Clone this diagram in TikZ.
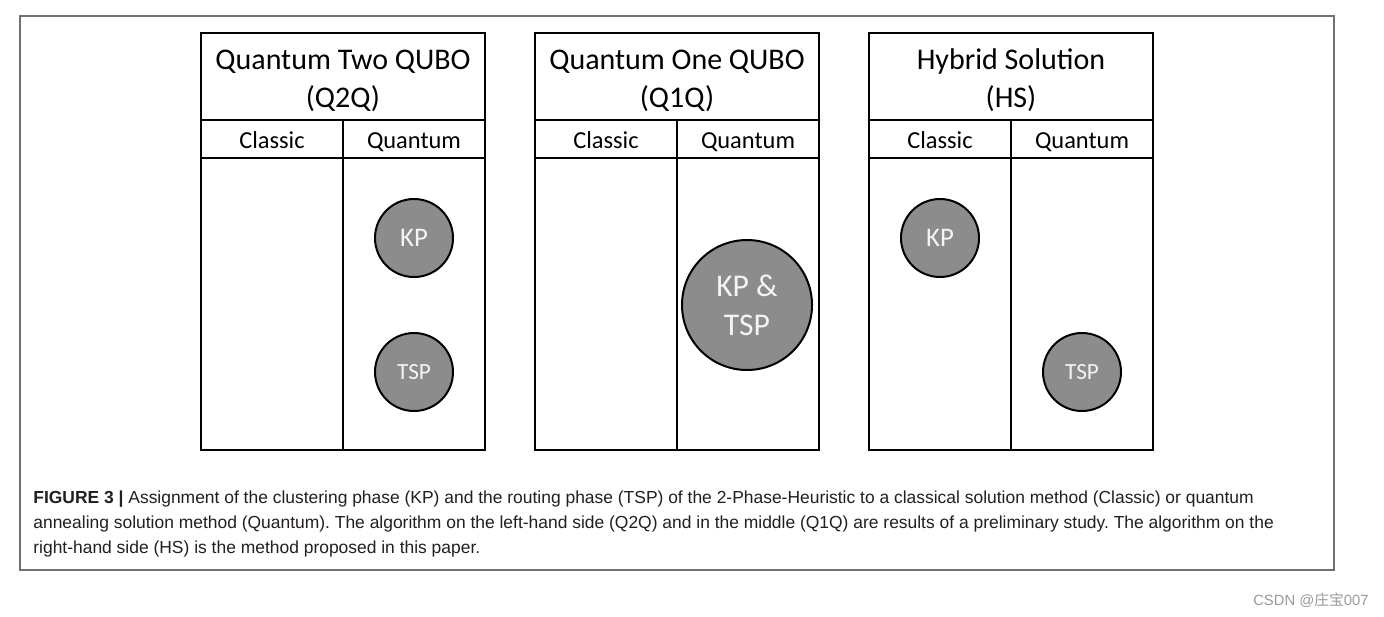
\documentclass[tikz,border=0pt]{standalone}
\usepackage{fontspec}
\setmainfont{Carlito}
\newfontfamily\capfont{Liberation Sans}
\newfontfamily\cjkfont{Noto Sans CJK SC}
\usetikzlibrary{positioning}
\definecolor{phaseFill}{HTML}{8c8c8c}
\definecolor{phaseText}{HTML}{f4f4f4}
\definecolor{frameGray}{HTML}{707070}
\definecolor{capText}{HTML}{231f20}
\definecolor{wmGray}{HTML}{9a9a9a}
\frenchspacing

\begin{document}
\begin{tikzpicture}[x=0.5pt,y=-0.5pt,panel/.style={draw=black, line width=1.3pt},ttl/.style={font=\fontsize{15}{19}\selectfont, align=center, inner sep=0pt, anchor=base},hdr/.style={font=\fontsize{12.2}{14}\selectfont, inner sep=0pt, anchor=base},phase/.style={circle, draw=black, line width=1pt, fill=phaseFill, text=phaseText, inner sep=0pt, align=center},capline/.style={anchor=base west, inner sep=0pt, font=\capfont\fontsize{8.72}{12.5}\selectfont, text=capText}]
\useasboundingbox[fill=white] (0,0) rectangle (1384,616);
\draw[frameGray, line width=0.6pt] (20,16) rectangle (1334,570);
% three panels: title row, header row, two columns
\foreach \x/\nm/\ttltext in {201/q2q/{Quantum Two QUBO\\(Q2Q)}, 535/q1q/{Quantum One QUBO\\(Q1Q)}, 869/hs/{Hybrid Solution\\(HS)}}{
  \draw[panel] (\x,33) rectangle (\x+284,450);
  \draw[panel] (\x,120) -- (\x+284,120) (\x,158) -- (\x+284,158) (\x+142,120) -- (\x+142,450);
  \node[ttl] (\nm-title) at (\x+142,107) {\ttltext};
  \node[hdr] (\nm-classic) at (\x+71,148) {Classic};
  \node[hdr] (\nm-quantum) at (\x+213,148) {Quantum};
}
\node[phase, minimum size=39pt, font=\fontsize{13.4}{15}\selectfont] (q2q-kp) at (414,238) {KP};
\node[phase, minimum size=39pt, font=\fontsize{11.6}{13}\selectfont] (q2q-tsp) at (414,372) {TSP};
\node[phase, minimum size=65pt, font=\fontsize{15.8}{19.5}\selectfont] (q1q-both) at (747,305) {KP \&\\TSP};
\node[phase, minimum size=39pt, font=\fontsize{13.4}{15}\selectfont] (hs-kp) at (940,238) {KP};
\node[phase, minimum size=39pt, font=\fontsize{11.6}{13}\selectfont] (hs-tsp) at (1082,372) {TSP};
% caption
\node[capline] (cap1) at (33,503) {\textbf{FIGURE 3 |} Assignment of the clustering phase (KP) and the routing phase (TSP) of the 2-Phase-Heuristic to a classical solution method (Classic) or quantum};
\node[capline] (cap2) at (33,528) {annealing solution method (Quantum). The algorithm on the left-hand side (Q2Q) and in the middle (Q1Q) are results of a preliminary study. The algorithm on the};
\node[capline] (cap3) at (33,553) {right-hand side (HS) is the method proposed in this paper.};
\node[anchor=base east, inner sep=0pt, font=\capfont\fontsize{7.4}{9}\selectfont, text=wmGray] (mark) at (1369,605) {CSDN @{\cjkfont 庄宝}007};
\end{tikzpicture}
\end{document}
